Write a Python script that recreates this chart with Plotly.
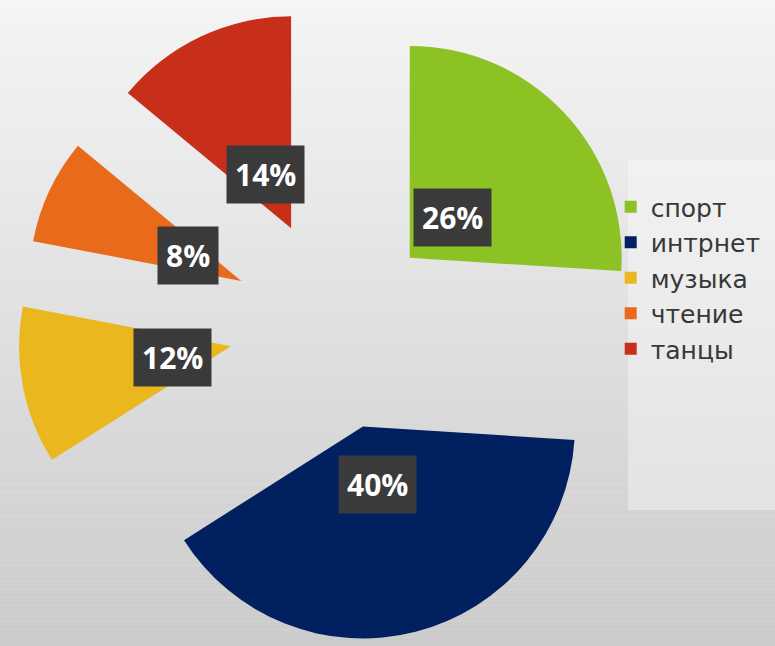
import math
import plotly.graph_objects as go

# ---- data ----
labels = ["спорт", "интрнет", "музыка", "чтение", "танцы"]
values = [26, 40, 12, 8, 14]
colors = ["#8cc224", "#002060", "#ebb71e", "#ea6a1b", "#c72f1b"]
pulls = [0.47, 0.49, 0.51, 0.50, 0.51]

W, H = 775, 646
M_TOP = 6
dom_x = [0.0, 0.87]
dom_y = [0.0, 1.0]

fig = go.Figure(go.Pie(
    labels=labels, values=values, sort=False, direction="clockwise", rotation=0,
    pull=pulls, marker=dict(colors=colors, line=dict(width=0)),
    textinfo="none", hoverinfo="label+percent",
    domain=dict(x=dom_x, y=dom_y),
))

# label boxes placed along each slice's mid-angle (derived from values/pulls)
PH = H - M_TOP
box_w = W * (dom_x[1] - dom_x[0])
box_h = PH * (dom_y[1] - dom_y[0])
r = min(box_w, box_h) / (2 + 2 * max(pulls))
cx = W * (dom_x[0] + dom_x[1]) / 2
cy = M_TOP + PH * (1 - (dom_y[0] + dom_y[1]) / 2)
total = sum(values)
cum = 0
annotations = []
for v, p in zip(values, pulls):
    mid = math.radians((cum + v / 2) / total * 360)
    cum += v
    dist = p * r + 0.28 * r
    px = cx + dist * math.sin(mid)
    py = cy - dist * math.cos(mid)
    annotations.append(dict(
        x=px / W, y=1 - (py - M_TOP) / PH, xref="paper", yref="paper",
        xanchor="center", yanchor="middle",
        text=f"{round(100 * v / total)}%", showarrow=False,
        font=dict(family="Open Sans", size=30, color="white", weight=700),
        bgcolor="#3a3a3a", borderpad=8,
    ))

# background gradient bands (full page, paper coords extended into top margin)
shapes = []
N = 80
top = (245, 245, 245)
bot = (203, 203, 203)
y_top = 1 + M_TOP / PH
for k in range(N):
    t = (k + 0.5) / N
    c = tuple(round(bot[i] + (top[i] - bot[i]) * t) for i in range(3))
    shapes.append(dict(type="rect", xref="paper", yref="paper", x0=0, x1=1,
                       y0=y_top * k / N, y1=y_top * (k + 1) / N,
                       fillcolor="rgb(%d,%d,%d)" % c,
                       line=dict(width=0), layer="below"))
# light legend panel
shapes.append(dict(type="rect", xref="paper", yref="paper", x0=628 / W, x1=1,
                   y0=1 - (510 - M_TOP) / PH, y1=1 - (160 - M_TOP) / PH,
                   fillcolor="rgba(255,255,255,0.35)",
                   line=dict(width=0), layer="below"))

fig.update_layout(
    width=W, height=H,
    margin=dict(l=0, r=0, t=M_TOP, b=0),
    paper_bgcolor="#ebebeb",
    plot_bgcolor="rgba(0,0,0,0)",
    showlegend=True,
    legend=dict(x=0.788, y=1 - (184 - M_TOP) / PH, xanchor="left", yanchor="top",
                font=dict(family="DejaVu Sans", size=25, color="#383838"),
                bgcolor="rgba(0,0,0,0)", itemclick=False),
    annotations=annotations,
    shapes=shapes,
)

fig.write_html(
    "out.html",
    config={"displayModeBar": False},
    post_script="document.body.style.margin='0';document.body.style.overflow='hidden';",
)
